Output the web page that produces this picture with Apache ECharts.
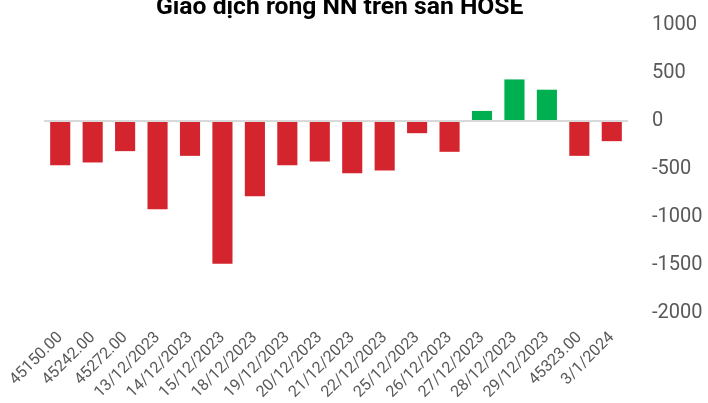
<!DOCTYPE html>
<html>
<head>
<meta charset="utf-8">
<script src="https://cdn.jsdelivr.net/npm/echarts@6/dist/echarts.min.js"></script>
<style>
  html, body { margin: 0; padding: 0; background: #fff; }
  #chart { width: 708px; height: 403px; }
</style>
</head>
<body>
<div id="chart"></div>
<script>
const categories = [
  '45150.00', '45242.00', '45272.00', '13/12/2023', '14/12/2023', '15/12/2023',
  '18/12/2023', '19/12/2023', '20/12/2023', '21/12/2023', '22/12/2023', '25/12/2023',
  '26/12/2023', '27/12/2023', '28/12/2023', '29/12/2023', '45323.00', '3/1/2024'
];
const netValues = [
  -460, -432, -314, -918, -363, -1487,
  -783, -460, -422, -543, -515, -127,
  -321, 105, 433, 326, -363, -210
];
const yTicks = { min: -2000, max: 1000, interval: 500 };

const chart = echarts.init(document.getElementById('chart'));

const option = {
  animation: false,
  title: {
    text: 'Giao dịch ròng NN trên sàn HOSE',
    left: 151,
    top: -10,
    textStyle: { fontFamily: 'Roboto', fontWeight: 'bold', fontSize: 24.7, color: '#000' }
  },
  grid: { left: 44, right: 80, top: 25, bottom: 90 },
  xAxis: {
    type: 'category',
    data: categories,
    axisLine: { show: false, onZero: false },
    axisTick: { show: false },
    axisLabel: {
      rotate: 45,
      interval: 0,
      margin: 22,
      fontFamily: 'Roboto',
      fontSize: 16,
      color: '#595959'
    }
  },
  yAxis: {
    type: 'value',
    position: 'right',
    min: yTicks.min,
    max: yTicks.max,
    interval: yTicks.interval,
    splitLine: { show: false },
    axisLine: { show: false },
    axisTick: { show: false },
    axisLabel: {
      margin: 24,
      fontFamily: 'Roboto',
      fontSize: 20,
      color: '#595959',
      formatter: v => String(v)
    }
  },
  series: [
    {
      type: 'bar',
      data: netValues.map(v => ({
        value: v,
        itemStyle: { color: v >= 0 ? '#00B050' : '#D4252F' }
      })),
      barWidth: '62%',
      markLine: {
        silent: true,
        symbol: 'none',
        label: { show: false },
        lineStyle: { color: '#d9d9d9', width: 2, type: 'solid' },
        data: [{ yAxis: 0 }]
      }
    }
  ]
};

chart.setOption(option);
</script>
</body>
</html>
